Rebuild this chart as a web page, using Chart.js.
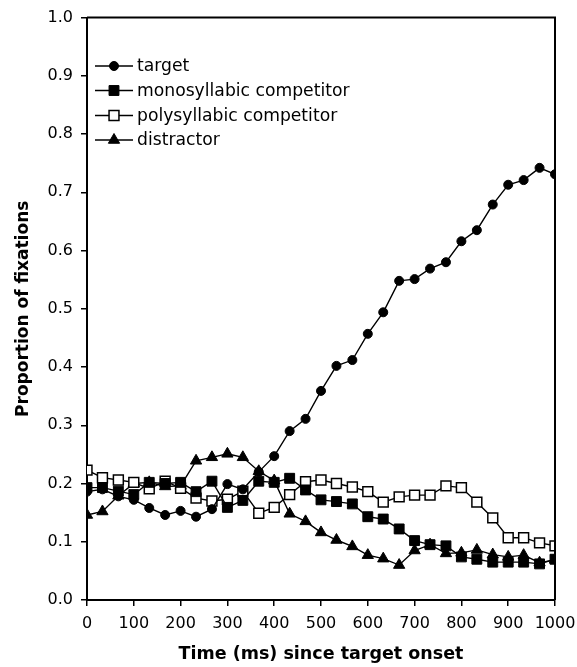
<!DOCTYPE html>
<html>
<head>
<meta charset="utf-8">
<script src="https://cdn.jsdelivr.net/npm/chart.js@4"></script>
<style>
  html, body { margin: 0; padding: 0; background: #fff; }
  #wrap { width: 577px; height: 667px; }
</style>
</head>
<body>
<div id="wrap"><canvas id="fix-chart"></canvas></div>
<script>
// time since target onset (ms)
const timeMs = [0, 33, 67, 100, 133, 167, 200, 233, 267, 300, 333, 367, 400, 433, 467, 500,
  533, 567, 600, 633, 667, 700, 733, 767, 800, 833, 867, 900, 933, 967, 1000];

const target = [0.186, 0.190, 0.178, 0.172, 0.158, 0.146, 0.153, 0.143, 0.156, 0.199, 0.190,
  0.220, 0.247, 0.290, 0.311, 0.359, 0.402, 0.412, 0.457, 0.494, 0.548, 0.551, 0.569, 0.580,
  0.616, 0.635, 0.679, 0.713, 0.721, 0.742, 0.731];

const mono = [0.193, 0.193, 0.187, 0.181, 0.202, 0.200, 0.202, 0.186, 0.204, 0.159, 0.171,
  0.204, 0.202, 0.209, 0.189, 0.172, 0.169, 0.165, 0.143, 0.139, 0.122, 0.102, 0.095, 0.093,
  0.074, 0.070, 0.065, 0.065, 0.065, 0.062, 0.070];

const poly = [0.223, 0.210, 0.206, 0.202, 0.191, 0.204, 0.192, 0.175, 0.170, 0.173, 0.187,
  0.149, 0.159, 0.181, 0.203, 0.206, 0.200, 0.194, 0.186, 0.168, 0.177, 0.180, 0.180, 0.196,
  0.193, 0.168, 0.141, 0.107, 0.107, 0.098, 0.093];

const distractor = [0.146, 0.152, 0.179, 0.200, 0.202, 0.195, 0.196, 0.239, 0.245, 0.251, 0.245,
  0.221, 0.205, 0.148, 0.135, 0.116, 0.103, 0.092, 0.077, 0.071, 0.060, 0.085, 0.095, 0.080,
  0.081, 0.086, 0.078, 0.074, 0.077, 0.064, 0.069];

const seriesNames = ['target', 'monosyllabic competitor', 'polysyllabic competitor', 'distractor'];

const FONT = 'DejaVu Sans, Verdana, sans-serif';

function toPoints(ys) {
  return ys.map((y, i) => ({ x: timeMs[i], y: y }));
}

function makeSet(label, ys, style, radius, fill) {
  return {
    label: label,
    data: toPoints(ys),
    borderColor: '#000',
    borderWidth: 1.4,
    pointStyle: style,
    pointRadius: radius,
    pointBackgroundColor: fill,
    pointBorderColor: '#000',
    pointBorderWidth: fill === '#fff' ? 1.5 : 1,
    tension: 0
  };
}

// frame on top and right + legend with line and marker
const framePlugin = {
  id: 'frameAndLegend',
  afterDraw(chart) {
    const { ctx, chartArea } = chart;
    ctx.save();
    ctx.strokeStyle = '#000';
    ctx.lineWidth = 2;
    ctx.beginPath();
    ctx.moveTo(chartArea.left, chartArea.top);
    ctx.lineTo(chartArea.right, chartArea.top);
    ctx.lineTo(chartArea.right, chartArea.bottom);
    ctx.stroke();

    const rowY = [66, 90.5, 115.5, 140];
    chart.data.datasets.forEach((ds, i) => {
      const y = rowY[i];
      ctx.strokeStyle = '#000';
      ctx.lineWidth = 1.4;
      ctx.beginPath();
      ctx.moveTo(95, y);
      ctx.lineTo(133, y);
      ctx.stroke();
      ctx.fillStyle = ds.pointBackgroundColor;
      ctx.lineWidth = ds.pointBorderWidth;
      Chart.helpers.drawPoint(ctx, {
        pointStyle: ds.pointStyle,
        radius: ds.pointRadius,
        rotation: 0,
        borderWidth: ds.pointBorderWidth
      }, 114, y);
      ctx.fillStyle = '#000';
      ctx.font = '17.2px ' + FONT;
      ctx.textBaseline = 'middle';
      ctx.textAlign = 'left';
      ctx.fillText(ds.label, 137, y + 1);
    });
    ctx.restore();
  }
};

const ctx = document.getElementById('fix-chart').getContext('2d');
new Chart(ctx, {
  type: 'line',
  data: {
    datasets: [
      makeSet(seriesNames[0], target, 'circle', 4.5, '#000'),
      makeSet(seriesNames[1], mono, 'rect', 7, '#000'),
      makeSet(seriesNames[2], poly, 'rect', 7, '#fff'),
      makeSet(seriesNames[3], distractor, 'triangle', 6.5, '#000')
    ]
  },
  options: {
    responsive: true,
    maintainAspectRatio: false,
    animation: false,
    layout: { padding: { top: 13, right: 22, bottom: 0, left: 0 } },
    plugins: {
      legend: { display: false },
      tooltip: { enabled: false }
    },
    scales: {
      x: {
        type: 'linear',
        min: 0,
        max: 1000,
        afterFit: s => { s.height = 67; s.paddingLeft = 0; s.paddingRight = 0; },
        border: { display: true, color: '#000', width: 2 },
        grid: { drawOnChartArea: false, drawTicks: true, tickLength: 6, color: '#000', lineWidth: 1.5 },
        ticks: {
          stepSize: 100,
          color: '#000',
          padding: 8,
          maxRotation: 0,
          font: { family: FONT, size: 16 },
          callback: v => String(v)
        },
        title: {
          display: true,
          text: 'Time (ms) since target onset',
          color: '#000',
          font: { family: FONT, size: 17.5, weight: 'bold' },
          padding: { top: 0, bottom: 2 }
        }
      },
      y: {
        min: 0,
        max: 1,
        afterFit: s => { s.width = 87; },
        border: { display: true, color: '#000', width: 2 },
        grid: { drawOnChartArea: false, drawTicks: true, tickLength: 6, color: '#000', lineWidth: 1.5 },
        ticks: {
          stepSize: 0.1,
          color: '#000',
          padding: 8,
          font: { family: FONT, size: 16 },
          callback: v => v.toFixed(1)
        },
        title: {
          display: true,
          text: 'Proportion of fixations',
          color: '#000',
          font: { family: FONT, size: 17, weight: 'bold' },
          padding: { top: 13, bottom: 0 }
        }
      }
    }
  },
  plugins: [framePlugin]
});
</script>
</body>
</html>
